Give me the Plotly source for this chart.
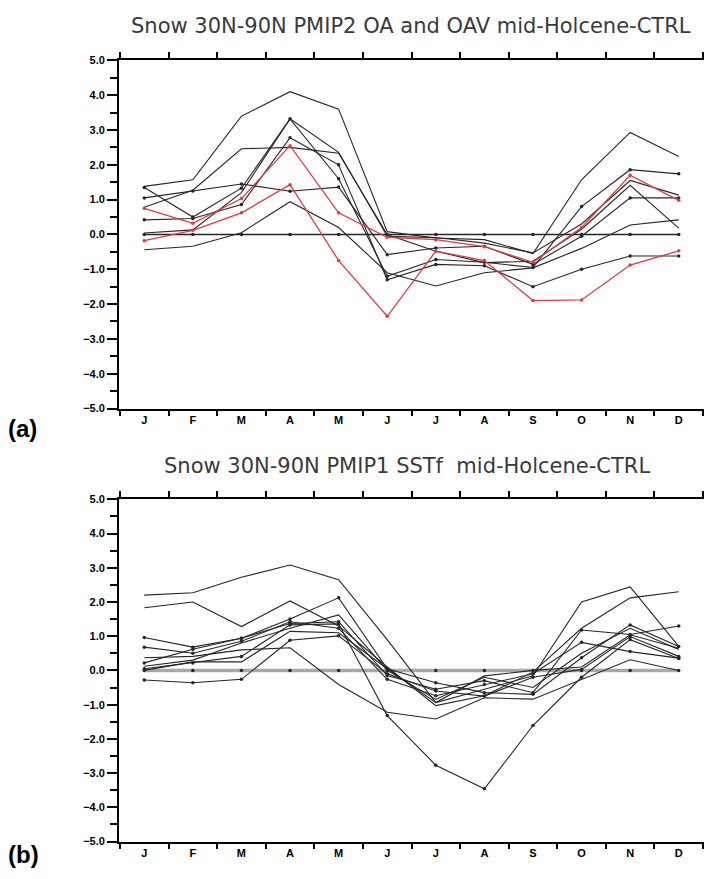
import plotly.graph_objects as go

months = ["J", "F", "M", "A", "M", "J", "J", "A", "S", "O", "N", "D"]
zero_line = [0.0] * 12

# (a) PMIP2 OA / OAV  (black = models, red = OAV)
oa_1 = [1.38, 1.57, 3.40, 4.10, 3.60, 0.08, -0.10, -0.15, -0.55, 1.57, 2.93, 2.24]
oa_2 = [1.35, 0.50, 1.33, 3.32, 1.60, -1.20, -0.72, -0.80, -0.95, 0.80, 1.86, 1.74]
oa_3 = [1.05, 1.25, 1.45, 1.24, 1.36, -0.58, -0.39, -0.34, -0.86, -0.05, 1.05, 1.05]
oa_4 = [0.78, 1.27, 2.46, 2.50, 2.33, 0.00, -0.48, -0.81, -0.77, 0.15, 1.41, 0.18]
oa_5 = [0.42, 0.46, 0.86, 2.78, 2.00, -1.30, -0.86, -0.90, -1.50, -1.00, -0.62, -0.62]
oa_6 = [0.04, 0.13, 1.20, 3.32, 2.36, -0.05, -0.09, -0.25, -0.53, 0.30, 1.55, 1.13]
oa_7 = [-0.44, -0.34, 0.05, 0.94, 0.20, -1.10, -1.48, -1.10, -0.96, -0.40, 0.27, 0.42]
oav_1 = [0.75, 0.32, 1.03, 2.55, 0.62, -0.08, -0.15, -0.35, -0.80, 0.20, 1.70, 0.98]
oav_2 = [-0.18, 0.12, 0.62, 1.43, -0.75, -2.35, -0.48, -0.75, -1.90, -1.88, -0.88, -0.47]

# (b) PMIP1 SSTf
sst_1 = [2.20, 2.27, 2.72, 3.08, 2.65, 0.90, -0.94, -0.55, -0.16, 2.00, 2.44, 0.70]
sst_2 = [1.83, 2.00, 1.28, 2.03, 1.30, 0.10, -1.03, -0.74, -0.05, 1.23, 2.12, 2.30]
sst_3 = [0.96, 0.68, 0.94, 1.37, 1.42, -0.15, -0.55, -0.30, -0.65, 1.18, 1.05, 1.30]
sst_4 = [0.68, 0.50, 0.85, 1.42, 1.23, -0.26, -0.74, -0.41, -0.10, 0.82, 0.55, 0.36]
sst_5 = [0.37, 0.41, 0.60, 0.66, -0.41, -1.22, -1.42, -0.80, -0.84, -0.27, 0.31, 0.00]
sst_6 = [0.22, 0.62, 0.94, 1.50, 2.12, 0.05, -0.36, -0.65, -0.70, 0.37, 1.33, 0.70]
sst_7 = [0.12, 0.30, 0.80, 1.23, 1.62, 0.00, -0.85, -0.20, -0.50, 0.50, 1.23, 0.61]
sst_8 = [0.05, 0.22, 0.41, 1.33, 1.36, -1.32, -2.77, -3.46, -1.61, -0.20, 0.90, 0.35]
sst_9 = [-0.28, -0.36, -0.26, 0.88, 1.01, -0.10, -0.60, -0.75, -0.20, 0.03, 0.99, 0.41]
sst_10 = [0.00, 0.25, 0.25, 1.14, 1.10, 0.05, -0.94, -0.16, 0.00, 0.10, 1.04, 0.65]

x = list(range(12))
BLACK = "#262626"
RED = "#e23a44"

fig = go.Figure()


def add_line(y, axis, color=BLACK, dots=False, width=1.1):
    fig.add_trace(go.Scatter(
        x=x, y=y, xaxis="x" + axis, yaxis="y" + axis,
        mode="lines+markers" if dots else "lines",
        line=dict(color=color, width=width),
        marker=dict(size=3.5, color=color),
        showlegend=False, hoverinfo="skip"))


# panel (a)
add_line(zero_line, "", dots=True, width=1.6)
for i, s in enumerate([oa_1, oa_2, oa_3, oa_4, oa_5, oa_6, oa_7]):
    add_line(s, "", dots=i in (1, 2, 4))
add_line(oav_1, "", color=RED, dots=True, width=1.3)
add_line(oav_2, "", color=RED, dots=True, width=1.3)

# panel (b)
add_line(zero_line, "2", color="#a8a8a8", width=3.5)
fig.add_trace(go.Scatter(x=x, y=zero_line, xaxis="x2", yaxis="y2", mode="markers",
                         marker=dict(size=3.5, color=BLACK), showlegend=False,
                         hoverinfo="skip"))
for i, s in enumerate([sst_1, sst_2, sst_3, sst_4, sst_5, sst_6, sst_7, sst_8, sst_9, sst_10]):
    add_line(s, "2", dots=i in (2, 3, 5, 7, 8))

W, H = 712, 879
OFF = 8  # page body margin


def px(v):
    return (v - OFF) / W


def py(v):
    return 1 - (v - OFF) / H


xdom = [px(119), px(704)]
half_ticks = [i - 0.5 for i in range(13)]

xaxis_style = dict(
    range=[-0.52, 11.52], tickmode="array", tickvals=x, ticktext=months,
    ticks="", showline=True, linecolor="black", linewidth=1.8, mirror="ticks",
    showgrid=False, zeroline=False,
    tickfont=dict(family="Liberation Sans", size=11, color="black", weight="bold"),
    minor=dict(tickmode="array", tickvals=half_ticks, ticks="outside",
               ticklen=6, tickwidth=1.5, tickcolor="black", showgrid=False),
)
yaxis_style = dict(
    range=[-5, 5], dtick=1, tickformat=".1f", ticks="outside", ticklen=10,
    tickwidth=1.5, tickcolor="black", showline=True, linecolor="black",
    linewidth=1.8, mirror="ticks", showgrid=False, zeroline=False,
    tickfont=dict(family="Liberation Sans", size=11, color="black", weight="bold"),
    minor=dict(dtick=0.5, ticks="outside", ticklen=7, tickwidth=1.5,
               tickcolor="black", showgrid=False),
)

fig.update_layout(
    width=W, height=H,
    margin=dict(l=0, r=0, t=0, b=0),
    paper_bgcolor="white", plot_bgcolor="white",
    xaxis=dict(domain=xdom, anchor="y", **xaxis_style),
    yaxis=dict(domain=[py(408), py(55)], anchor="x", **yaxis_style),
    xaxis2=dict(domain=xdom, anchor="y2", **xaxis_style),
    yaxis2=dict(domain=[py(847), py(500)], anchor="x2", **yaxis_style),
)

title_font = dict(family="DejaVu Sans", size=21, color="#3a3a3a")
fig.add_annotation(text="Snow 30N-90N PMIP2 OA and OAV mid-Holcene-CTRL",
                   x=px(411), y=py(20), xref="paper", yref="paper",
                   xanchor="center", yanchor="middle",
                   showarrow=False, font=title_font)
fig.add_annotation(text="Snow 30N-90N PMIP1 SSTf  mid-Holcene-CTRL",
                   x=px(407), y=py(466), xref="paper", yref="paper",
                   xanchor="center", yanchor="middle",
                   showarrow=False, font=title_font)
label_font = dict(family="Liberation Sans", size=24, color="black", weight="bold")
fig.add_annotation(text="(a)", x=px(6), y=py(428), xref="paper", yref="paper",
                   xanchor="left", yanchor="middle", showarrow=False, font=label_font)
fig.add_annotation(text="(b)", x=px(6), y=py(860), xref="paper", yref="paper",
                   xanchor="left", yanchor="middle", showarrow=False, font=label_font)

fig.write_html("out.html")
